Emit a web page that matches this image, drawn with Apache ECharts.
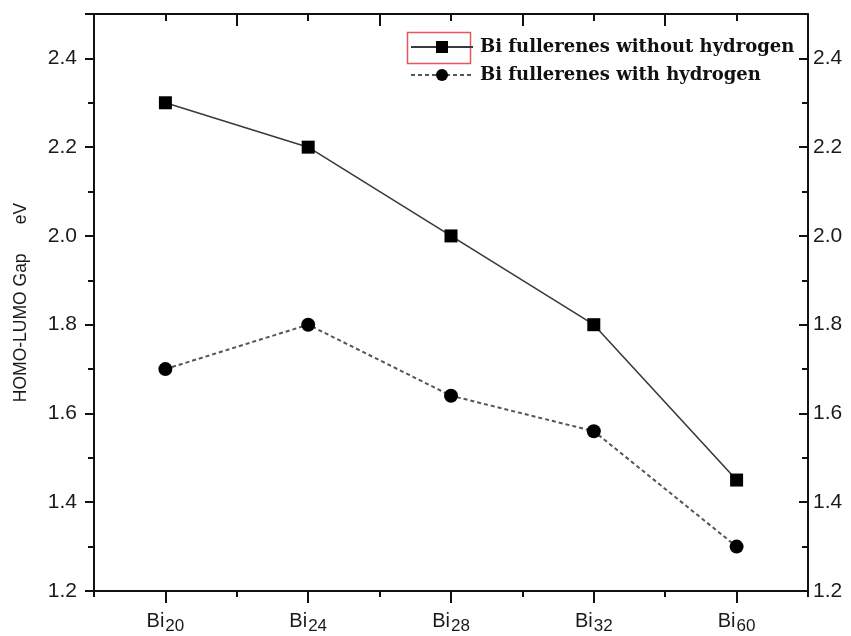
<!DOCTYPE html>
<html>
<head>
<meta charset="utf-8">
<script src="https://cdn.jsdelivr.net/npm/echarts@6/dist/echarts.min.js"></script>
<style>
  html, body { margin: 0; padding: 0; background: #fff; }
  #main { width: 851px; height: 636px; }
</style>
</head>
<body>
<div id="main"></div>
<script>
// cluster sizes (Bi_n)
const clusters = ['20', '24', '28', '32', '60'];
const withoutH = [2.30, 2.20, 2.00, 1.80, 1.45];
const withH = [1.70, 1.80, 1.64, 1.56, 1.30];
const seriesNames = ['Bi fullerenes without hydrogen', 'Bi fullerenes with hydrogen'];
const yMin = 1.2, yMax = 2.5, yStep = 0.2;

const chart = echarts.init(document.getElementById('main'), null, { renderer: 'canvas' });

const axisColor = '#111';
const labelFont = 'Liberation Sans, Arial, sans-serif';

const baseX = {
  type: 'category',
  data: clusters,
  boundaryGap: true,
  gridIndex: 0,
  axisLabel: { show: false },
  axisLine: { show: false },
  splitLine: { show: false }
};

const baseY = {
  type: 'value',
  min: yMin,
  max: yMax,
  interval: yStep,
  splitLine: { show: false },
  axisLine: { show: true, lineStyle: { color: axisColor, width: 2 } },
  axisTick: { show: true, length: 9, lineStyle: { color: axisColor, width: 2 } },
  minorTick: { show: true, splitNumber: 2, length: 6, lineStyle: { color: axisColor, width: 2 } },
  axisLabel: {
    showMaxLabel: false,
    fontFamily: labelFont,
    fontSize: 21,
    color: '#1a1a1a',
    formatter: v => v.toFixed(1)
  }
};

var option = {
  backgroundColor: '#ffffff',
  animation: false,
  grid: { left: 94, right: 43, top: 14, bottom: 45 },
  legend: {
    orient: 'vertical',
    left: 405,
    top: 32,
    itemWidth: 62,
    itemHeight: 15,
    itemGap: 8,
    data: seriesNames,
    textStyle: {
      fontFamily: 'DejaVu Serif, serif',
      fontWeight: 'bold',
      fontSize: 18,
      lineHeight: 20,
      color: '#111',
      padding: [0, 0, 0, 2]
    }
  },
  graphic: [{
    type: 'rect',
    left: 405,
    top: 30,
    shape: { width: 63, height: 31 },
    style: { fill: 'none', stroke: '#e8555a', lineWidth: 1.5 }
  }],
  xAxis: [
    Object.assign({}, baseX, {
      position: 'bottom',
      axisLine: { show: true, onZero: false, lineStyle: { color: axisColor, width: 2 } },
      axisTick: { show: true, alignWithLabel: true, interval: 0, length: 12, lineStyle: { color: axisColor, width: 2 } },
      axisLabel: {
        show: true,
        interval: 0,
        margin: 20,
        formatter: v => '{b|Bi}{s|' + v + '}',
        rich: {
          b: { fontFamily: labelFont, fontSize: 20, color: '#1a1a1a', lineHeight: 24, verticalAlign: 'top' },
          s: { fontFamily: labelFont, fontSize: 17, color: '#1a1a1a', lineHeight: 24, padding: [8, 0, 0, 1], verticalAlign: 'bottom' }
        }
      }
    }),
    Object.assign({}, baseX, {
      position: 'bottom',
      axisTick: { show: true, alignWithLabel: false, interval: 0, length: 6, lineStyle: { color: axisColor, width: 2 } }
    }),
    Object.assign({}, baseX, {
      position: 'top',
      axisLine: { show: true, onZero: false, lineStyle: { color: axisColor, width: 2 } },
      axisTick: { show: true, inside: true, alignWithLabel: true, interval: 0, length: 7, lineStyle: { color: axisColor, width: 2 } }
    }),
    Object.assign({}, baseX, {
      position: 'top',
      axisTick: { show: true, inside: true, alignWithLabel: false, interval: 0, length: 12, lineStyle: { color: axisColor, width: 2 } }
    })
  ],
  yAxis: [
    Object.assign({}, baseY, {
      position: 'left',
      name: 'HOMO-LUMO Gap      eV',
      nameLocation: 'middle',
      nameGap: 64,
      nameRotate: 90,
      nameTextStyle: { fontFamily: labelFont, fontSize: 17.5, color: '#1a1a1a' },
      axisLabel: Object.assign({}, baseY.axisLabel, { margin: 17 })
    }),
    Object.assign({}, baseY, {
      position: 'right',
      axisTick: Object.assign({}, baseY.axisTick, { inside: true }),
      axisLabel: Object.assign({}, baseY.axisLabel, { margin: 5 })
    })
  ],
  series: [
    {
      name: seriesNames[0],
      type: 'line',
      data: withoutH,
      symbol: 'rect',
      symbolSize: 13,
      itemStyle: { color: '#000' },
      lineStyle: { color: '#3a3a3a', width: 1.6, type: 'solid' }
    },
    {
      name: seriesNames[1],
      type: 'line',
      data: withH,
      symbol: 'circle',
      symbolSize: 14,
      itemStyle: { color: '#000' },
      lineStyle: { color: '#555', width: 2, type: [4, 3] }
    }
  ]
};

chart.setOption(option);
</script>
</body>
</html>
